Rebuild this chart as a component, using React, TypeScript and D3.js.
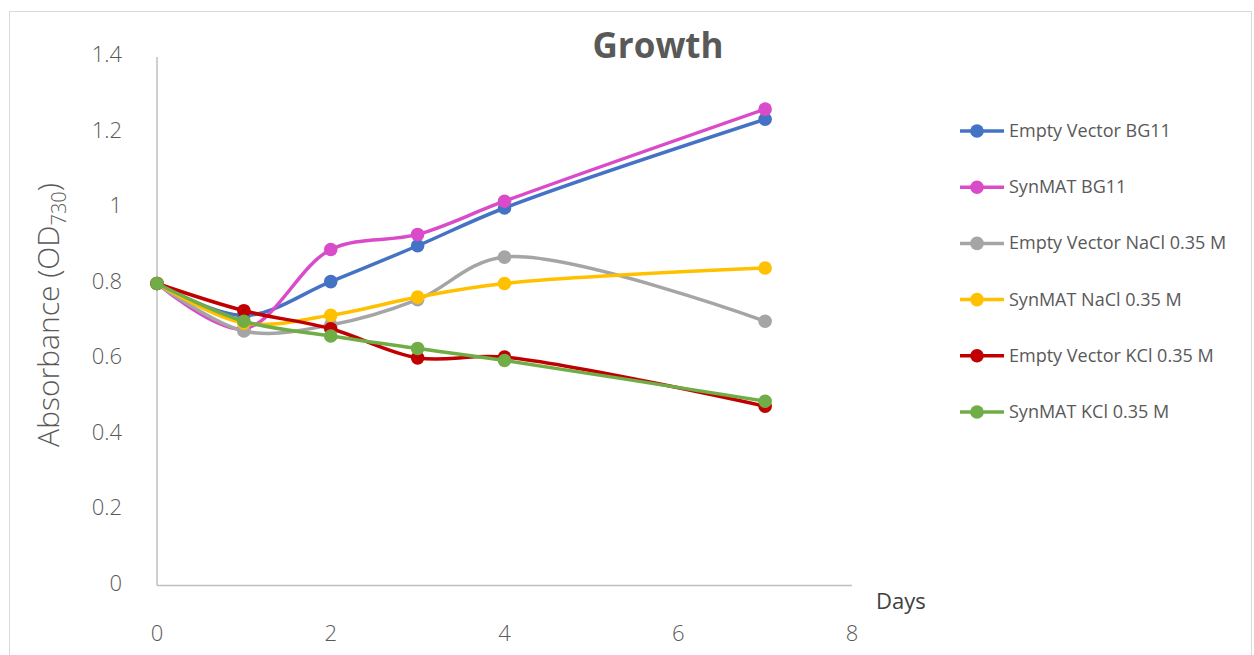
import React from "react";
import * as d3 from "d3";

const days = [0, 1, 2, 3, 4, 7];
const seriesNames = [
  "Empty Vector BG11",
  "SynMAT BG11",
  "Empty Vector NaCl 0.35 M",
  "SynMAT NaCl 0.35 M",
  "Empty Vector KCl 0.35 M",
  "SynMAT KCl 0.35 M",
];
const emptyVectorBG11 = [0.8, 0.715, 0.805, 0.9, 1.0, 1.235];
const synmatBG11 = [0.8, 0.68, 0.89, 0.93, 1.018, 1.262];
const emptyVectorNaCl = [0.8, 0.674, 0.69, 0.757, 0.87, 0.7];
const synmatNaCl = [0.8, 0.695, 0.716, 0.764, 0.8, 0.841];
const emptyVectorKCl = [0.8, 0.728, 0.68, 0.603, 0.605, 0.475];
const synmatKCl = [0.8, 0.7, 0.661, 0.628, 0.596, 0.488];
const colors = ["#4472C4", "#D94BC9", "#A5A5A5", "#FFC000", "#C00000", "#70AD47"];
const xTicks = [0, 2, 4, 6, 8];
const yTicks = [0, 0.2, 0.4, 0.6, 0.8, 1, 1.2, 1.4];

const allSeries = [emptyVectorBG11, synmatBG11, emptyVectorNaCl, synmatNaCl, emptyVectorKCl, synmatKCl];

export default function App() {
  const W = 1254, H = 655;
  const x = d3.scaleLinear().domain([0, 8]).range([157, 852]);
  const y = d3.scaleLinear().domain([0, 1.4]).range([585.5, 57]);
  const line = d3
    .line<number>()
    .x((_, i) => x(days[i]))
    .y((d) => y(d))
    .curve(d3.curveCatmullRom.alpha(0.5));
  const font = "'Open Sans', 'Noto Sans', sans-serif";
  const legendY0 = 131, legendDy = 56.2;
  return (
    <svg width={W} height={H} style={{ position: "absolute", left: 0, top: 0, background: "#fff" }} fontFamily={font}>
      <rect x={9.5} y={11.5} width={1242} height={660} fill="#fff" stroke="#D9D9D9" strokeWidth={1} />
      <text x={658} y={58} textAnchor="middle" fontSize={35} fontWeight="bold" fill="#595959">Growth</text>
      {/* axes */}
      <line x1={x(0)} x2={x(0)} y1={y(1.4)} y2={y(0)} stroke="#BFBFBF" strokeWidth={1.5} />
      <line x1={x(0)} x2={x(8)} y1={y(0)} y2={y(0)} stroke="#BFBFBF" strokeWidth={1.5} />
      {yTicks.map((t) => (
        <text key={t} x={122} y={y(t) + 5} textAnchor="end" fontSize={22} fontWeight={300} fill="#595959">{String(t)}</text>
      ))}
      {xTicks.map((t) => (
        <text key={t} x={x(t)} y={641} textAnchor="middle" fontSize={22} fontWeight={300} fill="#595959">{String(t)}</text>
      ))}
      <text x={876} y={609} fontSize={22} fill="#404040">Days</text>
      <text transform="translate(59,315) rotate(-90)" textAnchor="middle" fontSize={30} fontWeight={300} fill="#595959">
        Absorbance (OD<tspan fontSize={20} dy={7}>730</tspan><tspan dy={-7}>)</tspan>
      </text>
      {allSeries.map((s, si) => (
        <g key={si}>
          <path d={line(s) || ""} fill="none" stroke={colors[si]} strokeWidth={3.5} strokeLinejoin="round" />
          {s.map((v, i) => (
            <circle key={i} cx={x(days[i])} cy={y(v)} r={6.8} fill={colors[si]} />
          ))}
        </g>
      ))}
      {seriesNames.map((n, i) => (
        <g key={n} transform={`translate(0,${legendY0 + i * legendDy})`}>
          <line x1={960} x2={1004} y1={0} y2={0} stroke={colors[i]} strokeWidth={3.5} />
          <circle cx={977} cy={0} r={6.8} fill={colors[i]} />
          <text x={1009} y={6} fontSize={18} fill="#595959">{n}</text>
        </g>
      ))}
    </svg>
  );
}
